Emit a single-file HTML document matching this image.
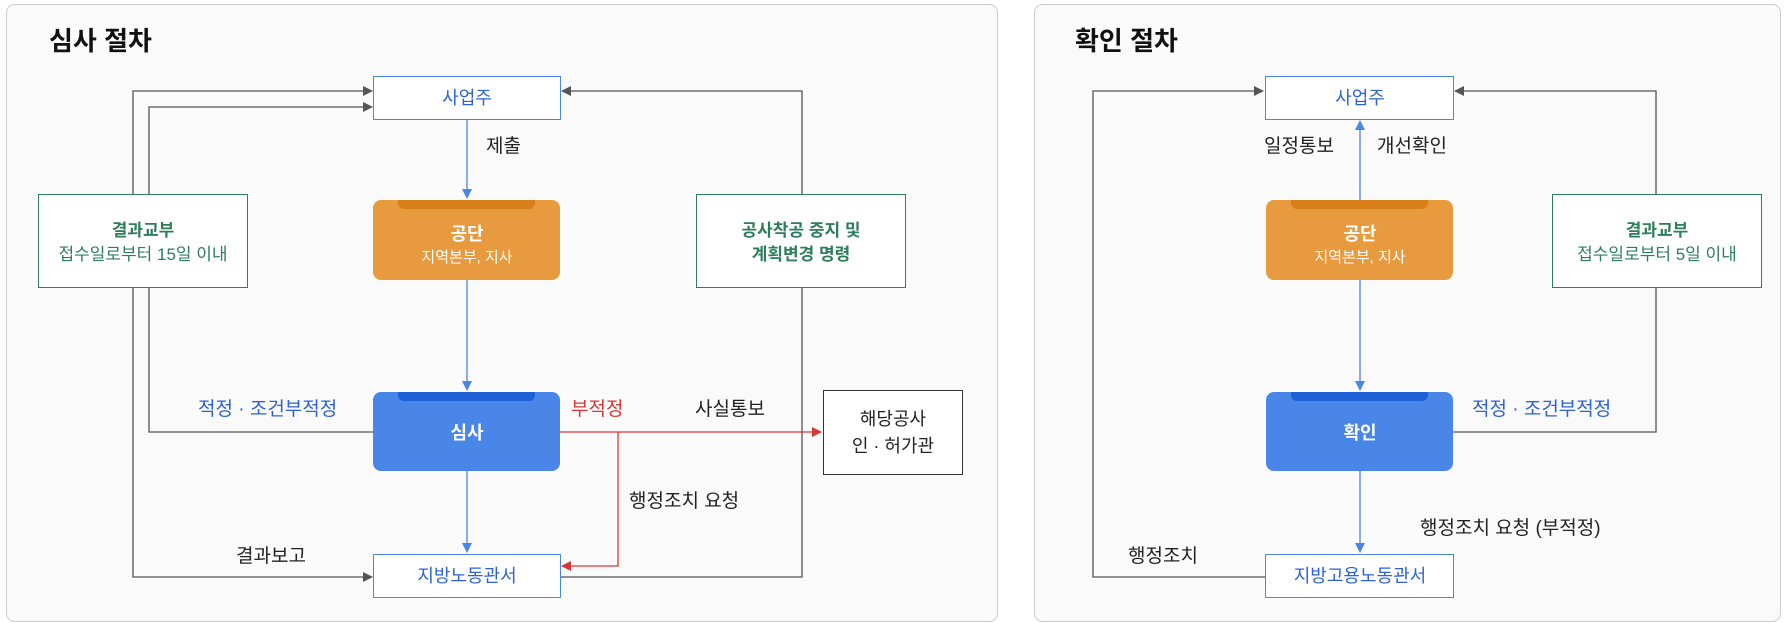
<!DOCTYPE html>
<html><head><meta charset="utf-8"><style>
html,body{margin:0;padding:0;background:#fff;}
svg{display:block;font-family:"Liberation Sans","Noto Sans CJK KR",sans-serif;}
</style></head><body>
<svg width="1786" height="623" viewBox="0 0 1786 623" xmlns="http://www.w3.org/2000/svg">
<defs>
<marker id="ag" markerWidth="10" markerHeight="10" refX="9" refY="5" orient="auto" markerUnits="userSpaceOnUse"><path d="M0,0 L10,5 L0,10 z" fill="#555"/></marker>
<marker id="ab" markerWidth="10" markerHeight="10" refX="9" refY="5" orient="auto" markerUnits="userSpaceOnUse"><path d="M0,0 L10,5 L0,10 z" fill="#4A86E8"/></marker>
<marker id="ar" markerWidth="10" markerHeight="10" refX="9" refY="5" orient="auto" markerUnits="userSpaceOnUse"><path d="M0,0 L10,5 L0,10 z" fill="#D93636"/></marker>
</defs>
<rect x="6.5" y="4.5" width="991" height="617" rx="8" fill="#FAFAFA" stroke="#CCC"/>
<rect x="1034.5" y="4.5" width="746" height="617" rx="8" fill="#FAFAFA" stroke="#CCC"/>
<text x="49" y="50" font-size="26" font-weight="bold" fill="#111">심사 절차</text>
<text x="1075" y="50" font-size="26" font-weight="bold" fill="#111">확인 절차</text>

<g fill="none" stroke="#555" stroke-width="1.3">
<path d="M133,194 V91 H372" marker-end="url(#ag)"/>
<path d="M133,287 V577 H372" marker-end="url(#ag)"/>
<path d="M374,432 H149 V107 H372" marker-end="url(#ag)"/>
<path d="M560,577 H802 V287"/>
<path d="M802,194 V91 H562" marker-end="url(#ag)"/>
<path d="M1265,577 H1093 V91 H1263" marker-end="url(#ag)"/>
<path d="M1453,432 H1656 V287"/>
<path d="M1656,194 V91 H1455" marker-end="url(#ag)"/>
</g>
<g fill="none" stroke="#4A86E8" stroke-width="1.3">
<path d="M467,119 V198" marker-end="url(#ab)"/>
<path d="M467,280 V390" marker-end="url(#ab)"/>
<path d="M467,471 V552" marker-end="url(#ab)"/>
<path d="M1360,200 V121" marker-end="url(#ab)"/>
<path d="M1360,280 V390" marker-end="url(#ab)"/>
<path d="M1360,471 V552" marker-end="url(#ab)"/>
</g>
<g fill="none" stroke="#D93636" stroke-width="1.3">
<path d="M560,432 H821" marker-end="url(#ar)"/>
<path d="M618,432 V566 H562" marker-end="url(#ar)"/>
</g>

<rect x="373.5" y="76.5" width="187" height="43" fill="#fff" stroke="#4A86E8"/>
<text x="467" y="104" font-size="18" fill="#2D62D6" text-anchor="middle">사업주</text>
<rect x="373" y="200" width="187" height="80" rx="8" fill="#E89A3F"/>
<path d="M398,200 H535 V203 a6,6 0 0 1 -6,6 H404 a6,6 0 0 1 -6,-6 z" fill="#D97F1A"/>
<text x="467" y="240" font-size="18" font-weight="bold" fill="#fff" text-anchor="middle">공단</text>
<text x="467" y="262" font-size="15" fill="#fff" text-anchor="middle">지역본부, 지사</text>
<rect x="373" y="392" width="187" height="79" rx="8" fill="#4A86E8"/>
<path d="M398,392 H535 V395 a6,6 0 0 1 -6,6 H404 a6,6 0 0 1 -6,-6 z" fill="#1F5FD6"/>
<text x="467" y="439" font-size="18" font-weight="bold" fill="#fff" text-anchor="middle">심사</text>
<rect x="373.5" y="554.5" width="187" height="43" fill="#fff" stroke="#4A86E8"/>
<text x="467" y="582" font-size="18" fill="#2D62D6" text-anchor="middle">지방노동관서</text>
<rect x="38.5" y="194.5" width="209" height="93" fill="#fff" stroke="#2E7D5B"/>
<text x="143" y="236" font-size="17" font-weight="bold" fill="#2E7D5B" text-anchor="middle">결과교부</text>
<text x="143" y="260" font-size="17" fill="#2E7D5B" text-anchor="middle">접수일로부터 15일 이내</text>
<rect x="696.5" y="194.5" width="209" height="93" fill="#fff" stroke="#2E7D5B"/>
<text x="801" y="236" font-size="17" font-weight="bold" fill="#2E7D5B" text-anchor="middle">공사착공 중지 및</text>
<text x="801" y="260" font-size="17" font-weight="bold" fill="#2E7D5B" text-anchor="middle">계획변경 명령</text>
<rect x="823.5" y="390.5" width="139" height="84" fill="#fff" stroke="#333"/>
<text x="893" y="425" font-size="18" fill="#222" text-anchor="middle">해당공사</text>
<text x="893" y="452" font-size="18" fill="#222" text-anchor="middle">인 · 허가관</text>

<g font-size="19" fill="#222">
<text x="486" y="152">제출</text>
<text x="198" y="415" fill="#2D62D6">적정 · 조건부적정</text>
<text x="571" y="415" fill="#D93636">부적정</text>
<text x="695" y="415">사실통보</text>
<text x="629" y="507">행정조치 요청</text>
<text x="236" y="562">결과보고</text>
</g>

<rect x="1265.5" y="76.5" width="188" height="43" fill="#fff" stroke="#4A86E8"/>
<text x="1360" y="104" font-size="18" fill="#2D62D6" text-anchor="middle">사업주</text>
<rect x="1266" y="200" width="187" height="80" rx="8" fill="#E89A3F"/>
<path d="M1291,200 H1428 V203 a6,6 0 0 1 -6,6 H1297 a6,6 0 0 1 -6,-6 z" fill="#D97F1A"/>
<text x="1360" y="240" font-size="18" font-weight="bold" fill="#fff" text-anchor="middle">공단</text>
<text x="1360" y="262" font-size="15" fill="#fff" text-anchor="middle">지역본부, 지사</text>
<rect x="1266" y="392" width="187" height="79" rx="8" fill="#4A86E8"/>
<path d="M1291,392 H1428 V395 a6,6 0 0 1 -6,6 H1297 a6,6 0 0 1 -6,-6 z" fill="#1F5FD6"/>
<text x="1360" y="439" font-size="18" font-weight="bold" fill="#fff" text-anchor="middle">확인</text>
<rect x="1265.5" y="554.5" width="188" height="43" fill="#fff" stroke="#4A86E8"/>
<text x="1360" y="582" font-size="18" fill="#2D62D6" text-anchor="middle">지방고용노동관서</text>
<rect x="1552.5" y="194.5" width="209" height="93" fill="#fff" stroke="#2E7D5B"/>
<text x="1657" y="236" font-size="17" font-weight="bold" fill="#2E7D5B" text-anchor="middle">결과교부</text>
<text x="1657" y="260" font-size="17" fill="#2E7D5B" text-anchor="middle">접수일로부터 5일 이내</text>

<g font-size="19" fill="#222">
<text x="1264" y="152">일정통보</text>
<text x="1377" y="152">개선확인</text>
<text x="1472" y="415" fill="#2D62D6">적정 · 조건부적정</text>
<text x="1420" y="534">행정조치 요청 (부적정)</text>
<text x="1128" y="562">행정조치</text>
</g>
</svg>
</body></html>
